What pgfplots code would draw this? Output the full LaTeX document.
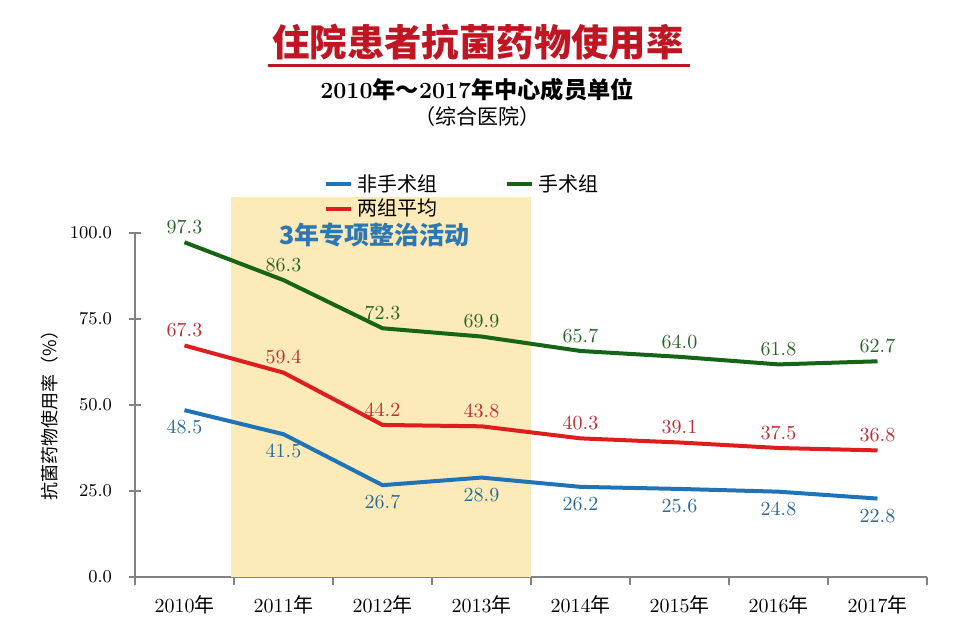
\documentclass[border=0pt]{standalone}
\usepackage{pgfplots}
\pgfplotsset{compat=1.18}
\usepackage{fontspec}
\newfontfamily\cjk{Noto Sans CJK SC}
\definecolor{cblue}{RGB}{31,115,183}
\definecolor{cgreen}{RGB}{22,100,22}
\definecolor{cred}{RGB}{222,30,30}
\definecolor{lblue}{RGB}{45,105,150}
\definecolor{lgreen}{RGB}{40,100,40}
\definecolor{lred}{RGB}{190,45,55}
\definecolor{shade}{RGB}{253,234,185}
\definecolor{titlered}{RGB}{192,22,36}
\definecolor{axgray}{RGB}{130,130,130}
\definecolor{actblue}{RGB}{45,120,180}
\pgfplotsset{vlab/.style={nodes near coords={\pgfmathprintnumber[fixed,fixed zerofill,precision=1]{\pgfplotspointmeta}}}}

\begin{document}
\begin{tikzpicture}
\path[use as bounding box] (0,0) rectangle (478pt,317.5pt);
\node[font=\cjk\bfseries\fontsize{18.7}{20}\selectfont, text=titlered, inner sep=0pt] at (239pt,296.5pt) {住院患者抗菌药物使用率};
\draw[titlered, line width=1.5pt] (134pt,284.5pt) -- (345pt,284.5pt);
\node[font=\fontsize{11.6}{13}\selectfont\bfseries, inner sep=0pt] at (238.5pt,272.5pt) {2010{\cjk\bfseries 年～}2017{\cjk\bfseries 年中心成员单位}};
\node[font=\cjk\fontsize{10.5}{12}\selectfont, inner sep=0pt] at (238.5pt,259pt) {（综合医院）};
\node[font=\cjk\fontsize{9}{10}\selectfont, rotate=90, inner sep=0pt] at (25pt,112pt) {抗菌药物使用率（\%）};

\begin{axis}[
  at={(67.5pt,29pt)}, anchor=south west,
  scale only axis, width=396pt, height=172pt,
  xmin=-0.5, xmax=7.5, ymin=0, ymax=100,
  clip=false,
  axis x line*=bottom, axis y line*=left,
  axis line style={axgray, line width=0.8pt},
  tick align=outside,
  major tick length=6pt, minor tick length=4pt,
  xtick={0,...,7},
  xticklabels={2010{\cjk 年},2011{\cjk 年},2012{\cjk 年},2013{\cjk 年},2014{\cjk 年},2015{\cjk 年},2016{\cjk 年},2017{\cjk 年}},
  major x tick style={draw=none},
  minor xtick={-0.5,0.5,...,7.5},
  minor x tick style={axgray, line width=0.8pt},
  ytick={0,25,50,75,100},
  y tick style={axgray, line width=0.8pt, xshift=3pt},
  yticklabel style={/pgf/number format/fixed, /pgf/number format/fixed zerofill, /pgf/number format/precision=1, font=\fontsize{9}{10}\selectfont, xshift=-2pt},
  xticklabel style={font=\fontsize{10}{12}\selectfont},
  legend columns=2,
  legend style={at={(0.231,1.195)}, anchor=north west, draw=none, fill=none,
    font=\cjk\fontsize{10}{12}\selectfont,
    /tikz/every even column/.append style={column sep=32pt},
    row sep=-1.5pt},
  legend cell align=left,
  legend image code/.code={\draw[#1, line width=2pt] (0pt,0pt) -- (12.5pt,0pt);},
]
\addplot[fill=shade, draw=none, forget plot] coordinates {(0.47,0) (3.5,0) (3.5,110.5) (0.47,110.5)} -- cycle;
\node[font=\cjk\bfseries\fontsize{12.5}{14}\selectfont, text=actblue] at (axis cs:1.92,99.5) {3年专项整治活动};

\addplot[cblue, line width=2pt, mark=none, vlab,
  every node near coord/.append style={font=\fontsize{10}{12}\selectfont, text=lblue, anchor=north, yshift=-1pt}]
  coordinates {(0,48.5) (1,41.5) (2,26.7) (3,28.9) (4,26.2) (5,25.6) (6,24.8) (7,22.8)};
\addlegendentry{非手术组}
\addplot[cgreen, line width=2pt, mark=none, vlab,
  every node near coord/.append style={font=\fontsize{10}{12}\selectfont, text=lgreen, anchor=south}]
  coordinates {(0,97.3) (1,86.3) (2,72.3) (3,69.9) (4,65.7) (5,64.0) (6,61.8) (7,62.7)};
\addlegendentry{手术组}
\addplot[cred, line width=2pt, mark=none, vlab,
  every node near coord/.append style={font=\fontsize{10}{12}\selectfont, text=lred, anchor=south}]
  coordinates {(0,67.3) (1,59.4) (2,44.2) (3,43.8) (4,40.3) (5,39.1) (6,37.5) (7,36.8)};
\addlegendentry{两组平均}
\end{axis}
\end{tikzpicture}
\end{document}
